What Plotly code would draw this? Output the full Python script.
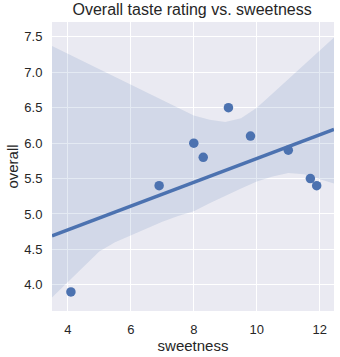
import numpy as np
import plotly.graph_objects as go

# Data
sweetness = [4.1, 6.9, 8.0, 8.3, 9.1, 9.8, 11.0, 11.7, 11.9]
overall = [3.9, 5.4, 6.0, 5.8, 6.5, 6.1, 5.9, 5.5, 5.4]

# Confidence band boundaries
band_x = [3.5, 4.0, 4.5, 5.0, 5.5, 6.0, 6.5, 7.0, 7.5, 8.0, 8.5, 9.0, 9.5, 10.0, 10.5, 11.0, 11.5, 12.0, 12.45]
band_upper = [7.37, 7.26, 7.15, 7.04, 6.93, 6.82, 6.71, 6.60, 6.50, 6.39, 6.33, 6.30, 6.35, 6.50, 6.70, 6.90, 7.10, 7.31, 7.49]
band_lower = [3.82, 4.04, 4.26, 4.47, 4.60, 4.70, 4.80, 4.89, 4.97, 5.04, 5.15, 5.26, 5.36, 5.46, 5.53, 5.58, 5.56, 5.49, 5.43]

x_ticks = [4, 6, 8, 10, 12]
y_ticks = [4.0, 4.5, 5.0, 5.5, 6.0, 6.5, 7.0, 7.5]

XR = [3.5, 12.45]
YR = [3.63, 7.71]

blue = "#4C72B0"
slope, intercept = np.polyfit(sweetness, overall, 1)
line_x = np.array(XR)
line_y = intercept + slope * line_x

fig = go.Figure()
fig.add_trace(go.Scatter(x=band_x, y=band_lower, mode="lines", line=dict(width=0),
                         hoverinfo="skip", showlegend=False))
fig.add_trace(go.Scatter(x=band_x, y=band_upper, mode="lines", line=dict(width=0),
                         fill="tonexty", fillcolor="rgba(76,114,176,0.15)",
                         hoverinfo="skip", showlegend=False))
fig.add_trace(go.Scatter(x=sweetness, y=overall, mode="markers",
                         marker=dict(color=blue, size=9.5, line=dict(width=0)),
                         showlegend=False))
fig.add_trace(go.Scatter(x=line_x, y=line_y, mode="lines",
                         line=dict(color=blue, width=3.5), showlegend=False))

font = "Liberation Sans, Arial, sans-serif"
fig.update_layout(
    width=340, height=357,
    margin=dict(l=52, r=6, t=22, b=46),
    paper_bgcolor="white", plot_bgcolor="#EAEAF2",
    font=dict(family=font, color="#262626", size=13),
    title=dict(text="Overall taste rating vs. sweetness", x=0.565, xanchor="center",
               y=0.975, yanchor="middle", font=dict(size=16, color="#262626")),
)
fig.update_xaxes(range=XR, tickvals=x_ticks, ticktext=[str(v) for v in x_ticks],
                 showgrid=True, gridcolor="white", gridwidth=1, zeroline=False,
                 showline=False, ticks="outside", ticklen=6, tickcolor="rgba(0,0,0,0)",
                 title=dict(text="sweetness", font=dict(size=15), standoff=1))
fig.update_yaxes(range=YR, tickvals=y_ticks, ticktext=[f"{v:.1f}" for v in y_ticks],
                 showgrid=True, gridcolor="white", gridwidth=1, zeroline=False,
                 showline=False, ticks="outside", ticklen=6, tickcolor="rgba(0,0,0,0)",
                 title=dict(text="overall", font=dict(size=15), standoff=2))

fig.write_html("out.html")
